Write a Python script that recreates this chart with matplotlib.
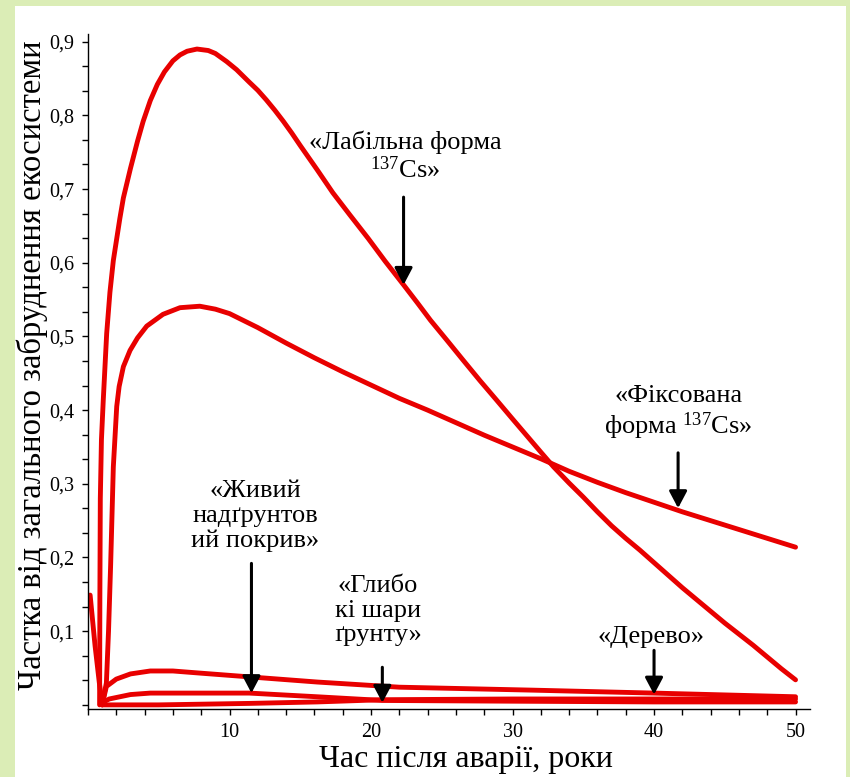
import matplotlib
matplotlib.use('Agg')
import matplotlib.pyplot as plt
from matplotlib.patches import Rectangle

plt.rcParams['font.family'] = ['Liberation Serif', 'DejaVu Serif']
plt.rcParams['mathtext.fontset'] = 'custom'
plt.rcParams['mathtext.rm'] = 'Liberation Serif'
plt.rcParams['mathtext.it'] = 'Liberation Serif'

# криві (час, роки / частка)
t_labile = [0.82, 0.84, 0.87, 0.95, 1.08, 1.32, 1.55, 1.79, 2.25, 2.5, 3.0, 3.5, 3.9, 4.4, 4.9,
            5.4, 6.0, 6.5, 7.0, 7.7, 8.5, 9.0, 9.8, 10.5, 11.4, 12.0, 12.6, 13.2, 13.8, 14.4,
            15.0, 16.2, 17.3, 18.5, 19.8, 21.0, 22.3, 23.3, 24.2, 25.4, 26.5, 27.7, 28.9, 30.0,
            31.2, 32.0, 32.9, 34.0, 35.0, 36.0, 37.0, 38.0, 39.0, 40.0, 41.0, 42.0, 43.0, 44.0,
            45.0, 46.0, 47.0, 48.0, 49.0, 50.0]
y_labile = [0.0, 0.15, 0.28, 0.36, 0.414, 0.504, 0.56, 0.603, 0.660, 0.688, 0.728, 0.765, 0.792,
            0.820, 0.842, 0.859, 0.874, 0.882, 0.887, 0.890, 0.888, 0.884, 0.873, 0.862, 0.845,
            0.834, 0.821, 0.807, 0.792, 0.776, 0.759, 0.726, 0.695, 0.665, 0.633, 0.602, 0.570,
            0.545, 0.522, 0.494, 0.468, 0.440, 0.413, 0.388, 0.361, 0.343, 0.323, 0.301, 0.282,
            0.262, 0.243, 0.226, 0.210, 0.193, 0.176, 0.159, 0.143, 0.127, 0.111, 0.096, 0.081,
            0.065, 0.049, 0.034]

t_fixed = [1.0, 1.3, 1.45, 1.6, 1.79, 2.03, 2.2, 2.5, 2.97, 3.5, 4.15, 5.3, 6.5, 7.9, 9.0, 10.0,
           12.0, 14.0, 16.0, 18.0, 20.0, 22.0, 24.0, 26.0, 28.0, 30.0, 32.0, 34.0, 36.0, 38.0,
           40.0, 42.0, 44.0, 46.0, 48.0, 50.0]
y_fixed = [0.0, 0.03, 0.10, 0.19, 0.323, 0.405, 0.432, 0.459, 0.481, 0.498, 0.514, 0.530, 0.539,
           0.541, 0.537, 0.531, 0.512, 0.491, 0.471, 0.452, 0.434, 0.416, 0.400, 0.383, 0.366,
           0.350, 0.334, 0.317, 0.302, 0.288, 0.275, 0.262, 0.250, 0.238, 0.226, 0.214]

t_tree = [1.0, 1.3, 2.0, 3.0, 4.4, 6.0, 8.0, 11.4, 16.2, 22.0, 31.4, 40.0, 50.0]
y_tree = [0.0, 0.025, 0.035, 0.042, 0.046, 0.046, 0.043, 0.038, 0.031, 0.024, 0.020, 0.016, 0.011]

t_live = [0.15, 0.5, 0.8, 1.0, 1.5, 3.0, 4.4, 11.4, 16.2, 20.8, 30.0, 40.0, 50.0]
y_live = [0.149, 0.08, 0.03, 0.003, 0.008, 0.014, 0.016, 0.016, 0.011, 0.006, 0.005, 0.004, 0.004]

t_deep = [1.0, 5.0, 11.4, 16.2, 20.8, 30.0, 40.0, 50.0]
y_deep = [0.0, 0.0, 0.002, 0.004, 0.007, 0.008, 0.008, 0.008]

x_ticks = [10, 20, 30, 40, 50]
y_ticks = [0.1, 0.2, 0.3, 0.4, 0.5, 0.6, 0.7, 0.8, 0.9]
y_ticklabels = ['0,1', '0,2', '0,3', '0,4', '0,5', '0,6', '0,7', '0,8', '0,9']

fig = plt.figure(figsize=(8.5, 7.77), dpi=100, facecolor='#dbedb6')
fig.patches.append(Rectangle((15 / 850, 0), 831 / 850, 771 / 777, transform=fig.transFigure,
                             facecolor='white', edgecolor='none', zorder=-5))

ax = fig.add_axes([88 / 850, (777 - 709.3) / 777, 721.7 / 850, 675 / 777])
ax.set_zorder(2)
ax.set_facecolor('none')
ax.set_xlim(0, 51)
ax.set_ylim(-0.006, 0.91)

red = '#e80000'
lw = 3.5
for tt, yy in [(t_labile, y_labile), (t_fixed, y_fixed), (t_tree, y_tree),
               (t_live, y_live), (t_deep, y_deep)]:
    ax.plot(tt, yy, color=red, linewidth=lw, solid_capstyle='round', solid_joinstyle='round')

ax.spines['top'].set_visible(False)
ax.spines['right'].set_visible(False)
ax.spines['left'].set_linewidth(1.0)
ax.spines['bottom'].set_linewidth(1.0)

ax.set_xticks(x_ticks)
ax.set_xticklabels([str(v) for v in x_ticks])
ax.set_xticks([v for v in range(0, 51, 2)], minor=True)
ax.set_yticks(y_ticks)
ax.set_yticklabels(y_ticklabels)
ax.set_yticks([i * 0.1 / 3 for i in range(0, 28)], minor=True)
ax.tick_params(axis='both', which='both', direction='out', length=4, width=1, labelsize=14.5)
ax.tick_params(axis='x', pad=6)
ax.tick_params(axis='y', pad=6)

fig.text(32 / 850, 1 - 365 / 777, 'Частка від загального забруднення екосистеми',
         rotation=90, ha='center', va='center', fontsize=23.5)
fig.text(466 / 850, 1 - 760 / 777, 'Час після аварії, роки', ha='center', va='center', fontsize=23)

labels = [
    ('«Лабільна форма\n$^{137}$Cs»', 22.4, 0.744, (22.3, 0.689), (22.3, 0.570)),
    ('«Фіксована\nформа $^{137}$Cs»', 41.7, 0.396, (41.7, 0.342), (41.7, 0.267)),
    ('«Живий\nнадґрунтов\nий покрив»', 11.8, 0.256, (11.55, 0.192), (11.55, 0.016)),
    ('«Глибо\nкі шари\nґрунту»', 20.5, 0.128, (20.8, 0.051), (20.8, 0.003)),
    ('«Дерево»', 39.8, 0.092, (40.0, 0.074), (40.0, 0.014)),
]
for txt, tx, ty, tail, tip in labels:
    ax.text(tx, ty, txt, ha='center', va='center', multialignment='center',
            fontsize=19, linespacing=1.15)
    ax.annotate('', xy=tip, xytext=tail,
                arrowprops=dict(arrowstyle='-|>,head_length=0.85,head_width=0.45',
                                mutation_scale=12, color='black', lw=2.2,
                                shrinkA=0, shrinkB=0))

fig.savefig('out.png', dpi=100, facecolor=fig.get_facecolor())
